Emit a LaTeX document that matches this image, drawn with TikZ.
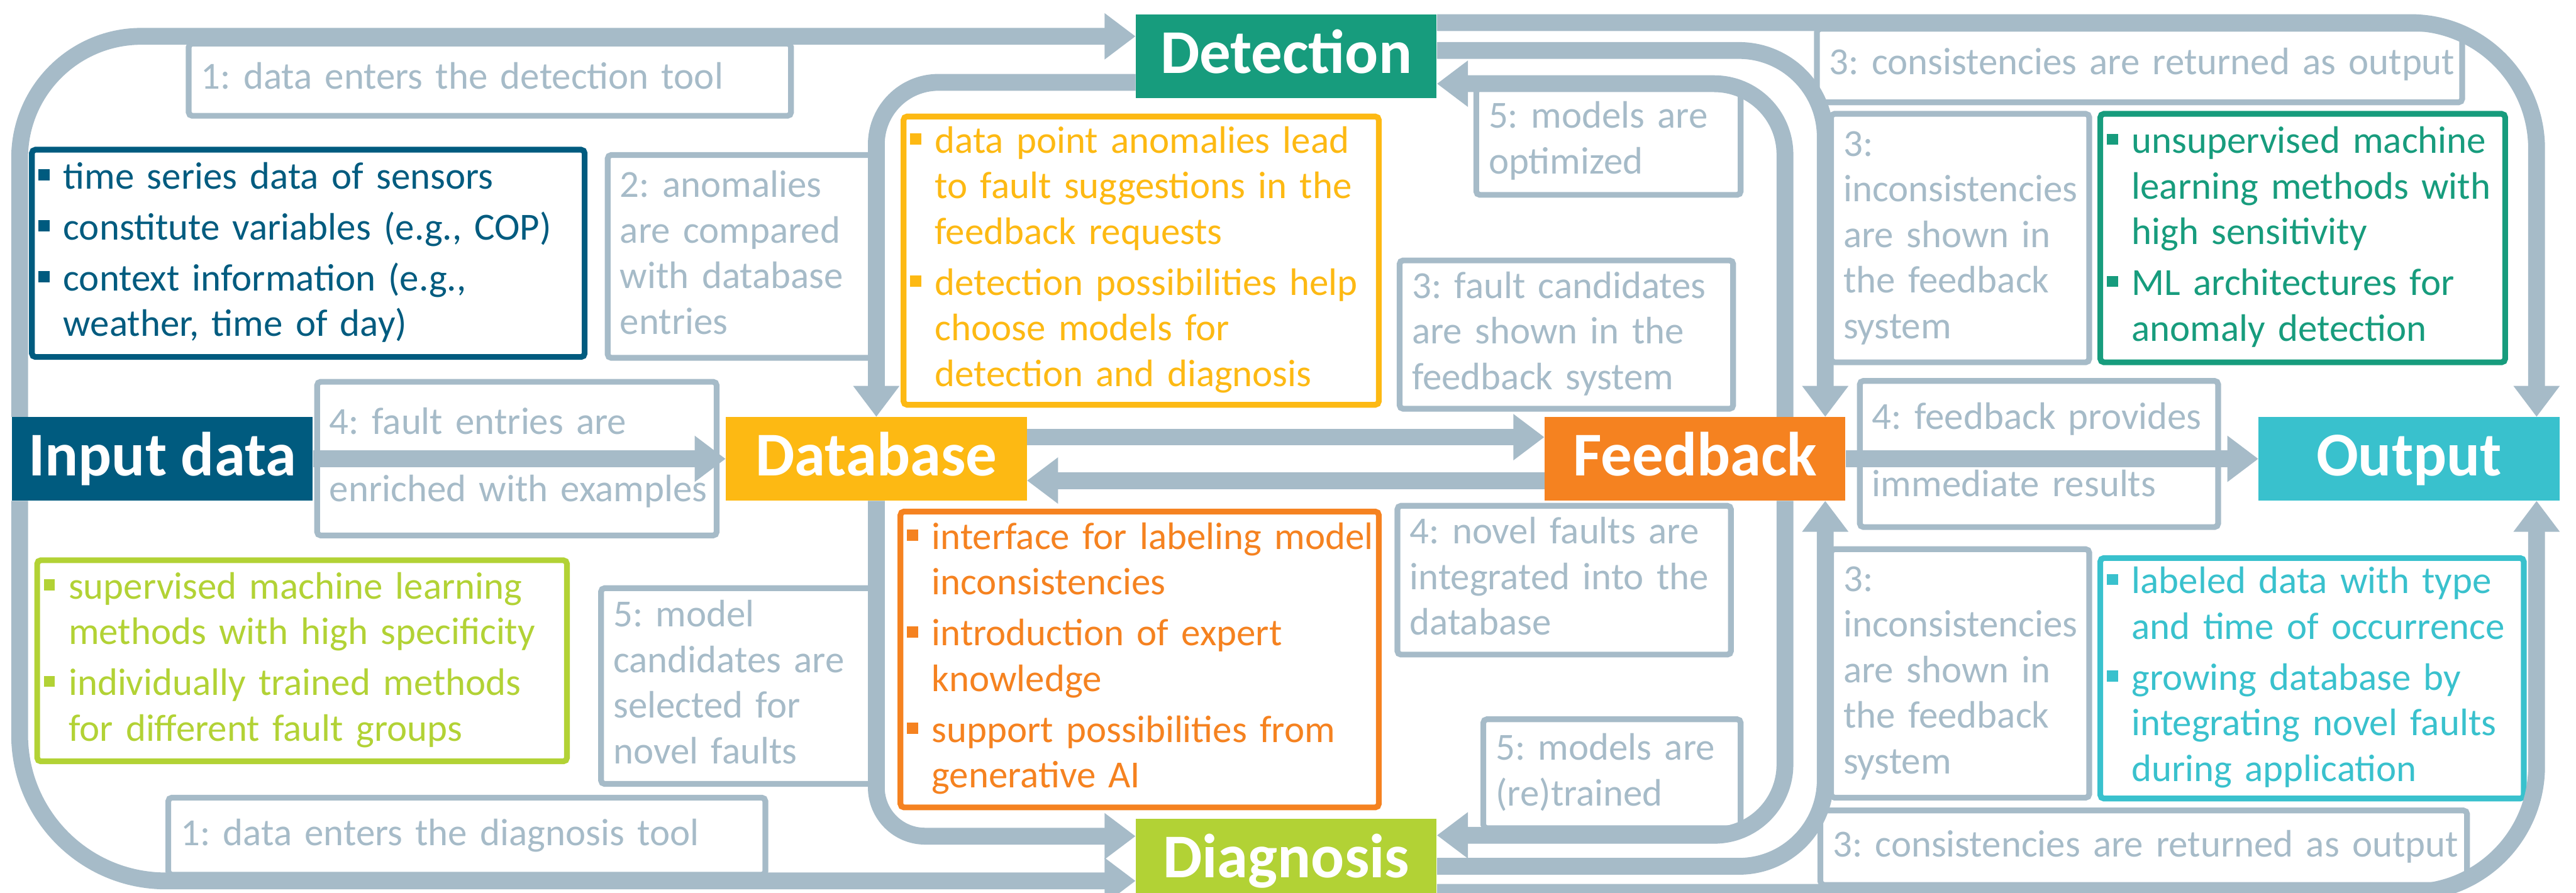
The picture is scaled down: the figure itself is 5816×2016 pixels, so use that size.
\documentclass[tikz,border=0pt]{standalone}
\usepackage{fontspec}
\setmainfont{Carlito}
\usetikzlibrary{arrows.meta,calc}
\definecolor{gry}{RGB}{166,187,200}
\definecolor{dblue}{RGB}{0,91,127}
\definecolor{yel}{RGB}{253,185,19}
\definecolor{orng}{RGB}{245,130,32}
\definecolor{cyn}{RGB}{57,193,205}
\definecolor{grn}{RGB}{23,156,125}
\definecolor{lgrn}{RGB}{178,210,53}
\frenchspacing
\newcommand{\tlines}[1]{\begin{tabular}{@{}l@{}}#1\end{tabular}}
\newcommand{\blt}{\makebox[5.6mm][l]{\rule[1.9mm]{2.5mm}{2.5mm}}}
\newcommand{\indt}{\hspace*{5.6mm}}
\tikzset{st/.style={fill=#1,text=white,font=\bfseries\fontsize{40}{44}\selectfont,minimum width=67.9mm,minimum height=18.8mm,text height=7.6mm,text depth=0pt,inner sep=0pt},
note/.style={draw=gry,text=gry,line width=1.3mm,rounded corners=0.8mm,inner xsep=2.8mm,inner ysep=0pt,font=\fontsize{24.6}{29.3}\selectfont},
info/.style={draw=#1,text=#1,line width=1.3mm,rounded corners=0.8mm,inner xsep=1.5mm,inner ysep=0pt,font=\fontsize{24.6}{29.3}\selectfont},
arr/.style={draw=gry,line width=3.8mm,-{Triangle[length=7mm,width=10mm]}}}

\begin{document}
\begin{tikzpicture}[x=0.1mm,y=-0.1mm]
\useasboundingbox(0,0)rectangle(5816,2016);
\clip(0,0)rectangle(5816,2016);
% stages
\node[st=dblue](inp)at(366.5,1036){Input data};\node[st=yel](db)at(1978.5,1036){Database};
\node[st=orng](fb)at(3827,1036){Feedback};\node[st=cyn](out)at(5439,1036){Output};
\node[st=grn](det)at(2904,127){Detection};\node[st=lgrn](dia)at(2904,1943){Diagnosis};
% method boxes
\node[info=dblue,minimum width=124.8mm,minimum height=46.8mm,text width=121.8mm](inpx)at(696,572){\tlines{\blt time series data of sensors\\[1.2mm]\blt constitute variables (e.g., COP)\\[1.2mm]\blt context information (e.g.,\\\indt weather, time of day)}};
\node[info=yel,minimum width=107.3mm,minimum height=65.1mm,text width=104.3mm](dbx)at(2576.5,588.5){\tlines{\blt data point anomalies lead\\\indt to fault suggestions in the\\\indt feedback requests\\[1.2mm]\blt detection possibilities help\\\indt choose models for\\\indt detection and diagnosis}};
\node[info=grn,minimum width=91.4mm,minimum height=56.1mm,text width=88.4mm](detx)at(5199,537.5){\tlines{\blt unsupervised machine\\\indt learning methods with\\\indt high sensitivity\\[1.2mm]\blt ML architectures for\\\indt anomaly detection}};
\node[info=lgrn,minimum width=119.6mm,minimum height=45.4mm,text width=116.6mm](diax)at(682,1492){\tlines{\blt supervised machine learning\\\indt methods with high specificity\\[1.2mm]\blt individually trained methods\\\indt for different fault groups}};
\node[info=orng,minimum width=108mm,minimum height=66.8mm,text width=105mm](fbx)at(2573,1489){\tlines{\blt interface for labeling model\\\indt inconsistencies\\[1.2mm]\blt introduction of expert\\\indt knowledge\\[1.2mm]\blt support possibilities from\\\indt generative AI}};
\node[info=cyn,minimum width=95.6mm,minimum height=54.3mm,text width=92.6mm](outx)at(5220,1531.5){\tlines{\blt labeled data with type\\\indt and time of occurrence\\[1.2mm]\blt growing database by\\\indt integrating novel faults\\\indt during application}};
% step labels
\node[note,minimum width=136mm,minimum height=16.3mm,text width=130.4mm](s1a)at(1106,180){\tlines{1: data enters the detection tool}};
\node[note,minimum width=134.8mm,minimum height=17.4mm,text width=129.2mm](s1b)at(1054,1888){\tlines{1: data enters the diagnosis tool}};
\node[note,minimum width=61.1mm,minimum height=45.8mm,text width=55.5mm](s2)at(1677.5,579){\tlines{2: anomalies\\are compared\\with database\\entries}};
\node[note,minimum width=90.2mm,minimum height=34.7mm,text width=84.6mm](s4a)at(1167,1035.5){\tlines{4: fault entries are\\[4.9mm]enriched with examples}};
\node[note,minimum width=62.1mm,minimum height=44.2mm,text width=56.5mm](s5a)at(1667.5,1549){\tlines{5: model\\candidates are\\selected for\\novel faults}};
\node[note,minimum width=59.7mm,minimum height=24mm,text width=54.1mm](s5b)at(3631.5,320){\tlines{5: models are\\optimized}};
\node[note,minimum width=75.3mm,minimum height=33.5mm,text width=69.7mm](s3a)at(3536.5,755.5){\tlines{3: fault candidates\\are shown in the\\feedback system}};
\node[note,minimum width=75.3mm,minimum height=33.6mm,text width=69.7mm](s4b)at(3531.5,1310){\tlines{4: novel faults are\\integrated into the\\database}};
\node[note,minimum width=58.1mm,minimum height=24.6mm,text width=52.5mm](s5c)at(3639.5,1747){\tlines{5: models are\\(re)trained}};
\node[note,minimum width=145.7mm,minimum height=16.6mm,text width=140.1mm](s3b)at(4830.5,148){\tlines{3: consistencies are returned as output}};
\node[note,minimum width=58.3mm,minimum height=56.1mm,text width=52.7mm](s3c)at(4425.5,537.5){\tlines{3:\\inconsistencies\\are shown in\\the feedback\\system}};
\node[note,minimum width=80.9mm,minimum height=33mm,text width=75.3mm](s4c)at(4603.5,1025){\tlines{4: feedback provides\\[4.9mm]immediate results}};
\node[note,minimum width=58.3mm,minimum height=56.1mm,text width=52.7mm](s3d)at(4425.5,1520.5){\tlines{3:\\inconsistencies\\are shown in\\the feedback\\system}};
\node[note,minimum width=146mm,minimum height=16.8mm,text width=140.4mm](s3e)at(4840,1914){\tlines{3: consistencies are returned as output}};
% flows
\draw[arr,rounded corners=27.5mm]($(inp.north west)+(18,0)$)|-($(det.west)+(0,-45)$);
\draw[arr,rounded corners=33mm]($(inp.south west)+(18,0)$)|-($(dia.west)+(0,46)$);
\draw[arr](inp)--(db);
\draw[arr,rounded corners=14mm]($(det.west)+(0,59)$)-|(db.north);
\draw[arr,rounded corners=11mm](db.south)|-($(dia.west)+(0,-55)$);
\draw[arr]($(db.east)+(0,-49)$)--($(fb.west)+(0,-49)$);
\draw[arr]($(fb.west)+(0,49)$)--($(db.east)+(0,49)$);
\draw[arr,rounded corners=19.5mm]($(det.east)+(0,-13)$)-|($(fb.north)+(294,0)$);
\draw[arr,rounded corners=16mm]($(fb.north)+(203,0)$)|-($(det.east)+(0,62)$);
\draw[arr,rounded corners=28.5mm]($(det.east)+(0,-76)$)-|($(out.north)+(288,0)$);
\draw[arr](fb)--(out);
\draw[arr,rounded corners=16mm]($(fb.south)+(203,0)$)|-($(dia.east)+(0,-57)$);
\draw[arr,rounded corners=19.5mm]($(dia.east)+(0,13)$)-|($(fb.south)+(294,0)$);
\draw[arr,rounded corners=28.5mm]($(dia.east)+(0,72)$)-|($(out.south)+(288,0)$);
\end{tikzpicture}
\end{document}
